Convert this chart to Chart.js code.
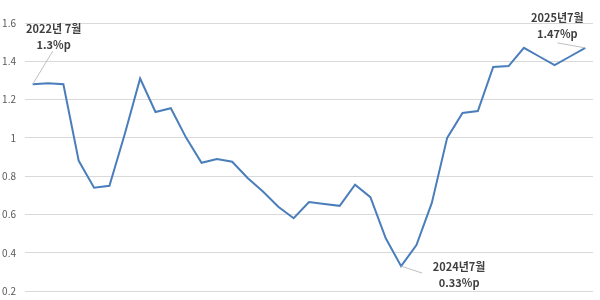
<!DOCTYPE html>
<html>
<head>
<meta charset="utf-8">
<script src="https://cdn.jsdelivr.net/npm/chart.js@4"></script>
<style>
  html, body { margin: 0; padding: 0; background: #fff; }
  #wrap { width: 600px; height: 300px; }
</style>
</head>
<body>
<div id="wrap"><canvas id="myChart" width="600" height="300"></canvas></div>
<script>
// months 2022.07 ~ 2025.07
const months = ['2022.07','2022.08','2022.09','2022.10','2022.11','2022.12',
  '2023.01','2023.02','2023.03','2023.04','2023.05','2023.06','2023.07','2023.08','2023.09','2023.10','2023.11','2023.12',
  '2024.01','2024.02','2024.03','2024.04','2024.05','2024.06','2024.07','2024.08','2024.09','2024.10','2024.11','2024.12',
  '2025.01','2025.02','2025.03','2025.04','2025.05','2025.06','2025.07'];
const gap = [1.28,1.285,1.28,0.88,0.74,0.75,1.02,1.31,1.135,1.155,1.0,0.87,0.89,0.875,0.79,0.72,0.64,0.58,
  0.665,0.655,0.645,0.755,0.69,0.475,0.33,0.44,0.66,1.0,1.13,1.14,1.37,1.375,1.47,1.425,1.38,1.425,1.47];
const yTicks = [0.2,0.4,0.6,0.8,1,1.2,1.4,1.6];
const noteIdx = [0, 24, 36];
const noteTitle = ['2022년 7월', '2024년7월', '2025년7월'];
const noteValue = ['1.3%p', '0.33%p', '1.47%p'];

// where each callout sits relative to its point
const noteLayout = [
  { lx: 20, ly: -33, tx: 21, ty: -55 },
  { lx: 21, ly: 7, tx: 58, ty: 1 },
  { lx: -28, ly: -5, tx: -28, ty: -30 }
];

const calloutPlugin = {
  id: 'callouts',
  afterDatasetsDraw(chart) {
    const c = chart.ctx;
    const xs = chart.scales.x, ys = chart.scales.y;
    c.save();
    noteIdx.forEach(function(idx, k) {
      const px = xs.getPixelForValue(idx);
      const py = ys.getPixelForValue(gap[idx]);
      const lay = noteLayout[k];
      c.strokeStyle = '#bfbfbf';
      c.lineWidth = 1;
      c.beginPath();
      c.moveTo(px, py);
      c.lineTo(px + lay.lx, py + lay.ly);
      c.stroke();
      c.fillStyle = '#404040';
      c.font = 'bold 11px "Noto Sans CJK KR", sans-serif';
      c.textAlign = 'center';
      c.textBaseline = 'middle';
      c.fillText(noteTitle[k], px + lay.tx, py + lay.ty);
      c.fillText(noteValue[k], px + lay.tx, py + lay.ty + 16);
    });
    c.restore();
  }
};

const ctx = document.getElementById('myChart').getContext('2d');
const chart = new Chart(ctx, {
  type: 'line',
  data: {
    labels: months,
    datasets: [{
      data: gap,
      borderColor: '#4a7ebb',
      borderWidth: 2,
      pointRadius: 0,
      tension: 0,
      fill: false
    }]
  },
  options: {
    responsive: false,
    animation: false,
    layout: { padding: { left: 0, right: 7, top: 23, bottom: 9 } },
    plugins: { legend: { display: false }, tooltip: { enabled: false } },
    scales: {
      x: {
        display: false,
        offset: true,
        grid: { display: false }
      },
      y: {
        min: 0.2,
        max: 1.6,
        afterBuildTicks(axis) {
          axis.ticks = yTicks.map(function(v) { return { value: v }; });
        },
        afterFit(axis) {
          axis.width = 25;
          axis.paddingTop = 0;
          axis.paddingBottom = 0;
        },
        border: { display: false },
        grid: { color: '#d9d9d9', drawTicks: false, lineWidth: 1 },
        ticks: {
          padding: 9,
          color: '#595959',
          font: { family: '"Noto Sans CJK KR", sans-serif', size: 10 },
          callback: function(v) { return String(Math.round(v * 10) / 10); }
        }
      }
    }
  },
  plugins: [calloutPlugin]
});
</script>
</body>
</html>
